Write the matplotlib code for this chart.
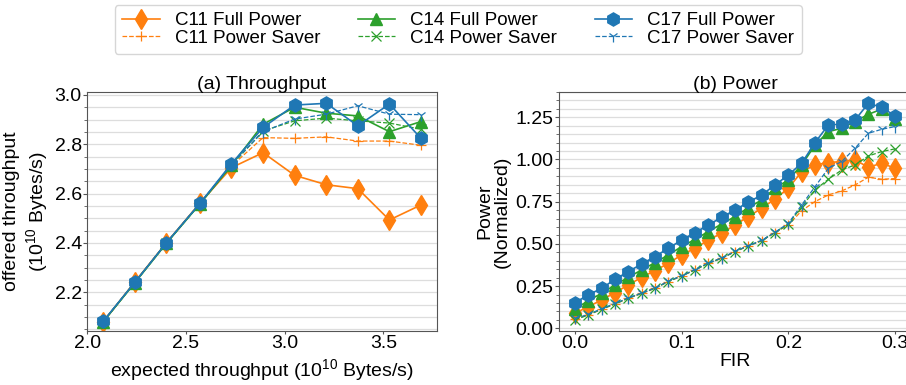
import matplotlib
matplotlib.use("Agg")
import matplotlib.pyplot as plt
from matplotlib.ticker import MultipleLocator

plt.rcParams['font.family'] = ['Liberation Sans', 'DejaVu Sans']
plt.rcParams['font.size'] = 14
plt.rcParams['mathtext.default'] = 'regular'

# ---- (a) Throughput data ----
expected = [2.08, 2.24, 2.40, 2.57, 2.73, 2.89, 3.05, 3.21, 3.37, 3.53, 3.69]
c11_full_tp = [2.080, 2.241, 2.400, 2.561, 2.705, 2.766, 2.674, 2.636, 2.620, 2.493, 2.554]
c11_saver_tp = [2.080, 2.241, 2.400, 2.561, 2.712, 2.827, 2.824, 2.830, 2.813, 2.813, 2.796]
c14_full_tp = [2.080, 2.238, 2.398, 2.558, 2.714, 2.881, 2.950, 2.926, 2.915, 2.851, 2.892]
c14_saver_tp = [2.080, 2.238, 2.398, 2.558, 2.714, 2.854, 2.895, 2.906, 2.895, 2.886, 2.861]
c17_full_tp = [2.082, 2.240, 2.400, 2.560, 2.721, 2.868, 2.959, 2.966, 2.875, 2.963, 2.824]
c17_saver_tp = [2.082, 2.240, 2.400, 2.560, 2.718, 2.851, 2.902, 2.922, 2.956, 2.922, 2.920]

# ---- (b) Power data ----
fir = [0.0, 0.0125, 0.025, 0.0375, 0.05, 0.0625, 0.075, 0.0875, 0.1, 0.1125,
       0.125, 0.1375, 0.15, 0.1625, 0.175, 0.1875, 0.2, 0.2125, 0.225, 0.2375,
       0.25, 0.2625, 0.275, 0.2875, 0.3]
c17_full_pw = [0.152, 0.198, 0.237, 0.290, 0.336, 0.381, 0.425, 0.474, 0.523, 0.567,
               0.612, 0.658, 0.701, 0.747, 0.790, 0.849, 0.908, 0.978, 1.100, 1.205,
               1.209, 1.234, 1.333, 1.309, 1.258]
c14_full_pw = [0.113, 0.164, 0.207, 0.257, 0.302, 0.346, 0.389, 0.435, 0.484, 0.527,
               0.573, 0.618, 0.662, 0.715, 0.760, 0.830, 0.879, 0.968, 1.086, 1.165,
               1.185, 1.225, 1.268, 1.298, 1.238]
c11_full_pw = [0.089, 0.128, 0.168, 0.211, 0.257, 0.302, 0.342, 0.385, 0.435, 0.474,
               0.523, 0.563, 0.612, 0.662, 0.711, 0.766, 0.830, 0.928, 0.968, 0.982,
               0.988, 0.997, 0.954, 0.978, 0.948]
c11_saver_pw = [0.055, 0.079, 0.113, 0.144, 0.178, 0.207, 0.237, 0.277, 0.310, 0.346,
                0.385, 0.415, 0.454, 0.488, 0.519, 0.567, 0.612, 0.697, 0.751, 0.790,
                0.814, 0.849, 0.895, 0.883, 0.887]
c14_saver_pw = [0.050, 0.079, 0.113, 0.144, 0.178, 0.207, 0.237, 0.277, 0.310, 0.346,
                0.385, 0.415, 0.454, 0.488, 0.519, 0.567, 0.617, 0.721, 0.820, 0.883,
                0.938, 0.968, 1.021, 1.047, 1.063]
c17_saver_pw = [0.058, 0.082, 0.116, 0.147, 0.180, 0.209, 0.239, 0.279, 0.312, 0.348,
                0.387, 0.417, 0.456, 0.490, 0.521, 0.569, 0.622, 0.731, 0.839, 0.948,
                0.988, 1.067, 1.155, 1.179, 1.195]

labels = ['C11 Full Power', 'C11 Power Saver', 'C14 Full Power',
          'C14 Power Saver', 'C17 Full Power', 'C17 Power Saver']

ORANGE = '#ff7f0e'
GREEN = '#2ca02c'
BLUE = '#1f77b4'

fig = plt.figure(figsize=(9.06, 3.85), dpi=100)
ax1 = fig.add_axes([0.0964, 0.1403, 0.3857, 0.6208])
ax2 = fig.add_axes([0.6170, 0.1403, 0.3886, 0.6208])


def style(ax):
    ax.yaxis.set_minor_locator(MultipleLocator(0.05))
    ax.grid(axis='y', which='both', color='#dddddd', linewidth=0.9)
    ax.set_axisbelow(True)
    for s in ax.spines.values():
        s.set_color('#555555')
    ax.tick_params(axis='y', which='major', length=3, width=0.8, color='#555555',
                   labelsize=14, pad=1)
    ax.tick_params(axis='x', which='major', length=2, width=0.8, color='#555555',
                   labelsize=14, pad=0.8)
    ax.tick_params(which='minor', length=2, width=0.6, color='#555555')
    ax.tick_params(axis='x', which='minor', bottom=False)


def draw(ax, x, series):
    full_kw = dict(linestyle='-', linewidth=1.2)
    saver_kw = dict(linestyle='--', linewidth=0.9)
    l11f, = ax.plot(x, series[0], color=ORANGE, marker='d', markersize=10.5, **full_kw)
    l11s, = ax.plot(x, series[1], color=ORANGE, marker='+', markersize=7, markeredgewidth=0.9, **saver_kw)
    l14f, = ax.plot(x, series[2], color=GREEN, marker='^', markersize=9, **full_kw)
    l14s, = ax.plot(x, series[3], color=GREEN, marker='x', markersize=6.5, markeredgewidth=0.9, **saver_kw)
    l17f, = ax.plot(x, series[4], color=BLUE, marker='h', markersize=9.5, **full_kw)
    l17s, = ax.plot(x, series[5], color=BLUE, marker='1', markersize=8, markeredgewidth=0.9, **saver_kw)
    return [l11f, l11s, l14f, l14s, l17f, l17s]


handles = draw(ax1, expected, [c11_full_tp, c11_saver_tp, c14_full_tp,
                               c14_saver_tp, c17_full_tp, c17_saver_tp])
draw(ax2, fir, [c11_full_pw, c11_saver_pw, c14_full_pw,
                c14_saver_pw, c17_full_pw, c17_saver_pw])

style(ax1)
ax1.set_xlim(2.0, 3.77)
ax1.set_ylim(2.043, 3.012)
ax1.xaxis.set_major_locator(MultipleLocator(0.5))
ax1.yaxis.set_major_locator(MultipleLocator(0.2))
ax1.set_title('(a) Throughput', fontsize=14, pad=2)
ax1.set_xlabel('expected throughput (10$^{10}$ Bytes/s)', fontsize=14, labelpad=4)
ax1.set_ylabel('offered throughput\n(10$^{10}$ Bytes/s)', fontsize=14, labelpad=3.5)

style(ax2)
ax2.set_xlim(-0.015, 0.315)
ax2.set_ylim(-0.016, 1.40)
ax2.xaxis.set_major_locator(MultipleLocator(0.1))
ax2.yaxis.set_major_locator(MultipleLocator(0.25))
ax2.set_title('(b) Power', fontsize=14, pad=2)
ax2.set_xlabel('FIR', fontsize=14, labelpad=0.5)
ax2.set_ylabel('Power\n(Normalized)', fontsize=14, labelpad=3.5, linespacing=1.0)

fig.legend(handles, labels, ncol=3, loc='lower center',
           bbox_to_anchor=(0.5056, 0.8597), fontsize=13.5, frameon=True,
           columnspacing=2.0, handletextpad=0.8, labelspacing=0.0,
           borderpad=0.4, edgecolor='#cccccc', borderaxespad=0)

fig.savefig('out.png', dpi=100)
